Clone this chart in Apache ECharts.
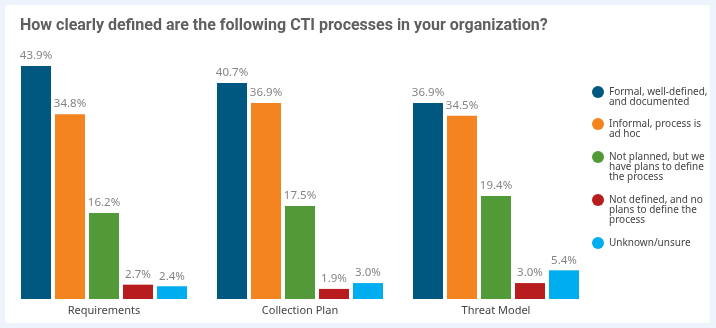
<!DOCTYPE html>
<html><head><meta charset="utf-8">
<script src="https://cdn.jsdelivr.net/npm/echarts@6/dist/echarts.min.js"></script>
<style>html,body{margin:0;padding:0;}#c{width:716px;height:328px;}</style>
</head><body><div id="c"></div>
<script>
const titleText = 'How clearly defined are the following CTI processes in your organization?';
const categories = ['Requirements', 'Collection Plan', 'Threat Model'];
const seriesNames = [
  'Formal, well-defined,\nand documented',
  'Informal, process is\nad hoc',
  'Not planned, but we\nhave plans to define\nthe process',
  'Not defined, and no\nplans to define the\nprocess',
  'Unknown/unsure'
];
const formalVals = [43.9, 40.7, 36.9];
const informalVals = [34.8, 36.9, 34.5];
const notPlannedVals = [16.2, 17.5, 19.4];
const notDefinedVals = [2.7, 1.9, 3.0];
const unknownVals = [2.4, 3.0, 5.4];
const colors = ['#00577f', '#f3841f', '#529a38', '#b81c1e', '#00adee'];

const allVals = [formalVals, informalVals, notPlannedVals, notDefinedVals, unknownVals];
const legendCenters = [92, 124, 157, 200, 243];
const LH = 10;

const legends = seriesNames.map((name, i) => {
  const n = name.split('\n').length;
  const H = Math.max(12, (2 * n - 1) * LH);
  return {
    left: 592, top: legendCenters[i] - H / 2, padding: 0,
    orient: 'vertical', itemWidth: 12, itemHeight: 12, itemGap: 3,
    icon: 'circle', selectedMode: false,
    data: [name],
    formatter: nm => '\n'.repeat(n - 1) + nm,
    textStyle: { fontFamily: 'Noto Sans', fontSize: 10, color: '#444', lineHeight: LH }
  };
});

const chart = echarts.init(document.getElementById('c'), null, { renderer: 'canvas' });
chart.setOption({
  animation: false,
  backgroundColor: '#eef4fb',
  color: colors,
  graphic: [{ type: 'rect', z: -10, shape: { x: 5, y: 5, width: 705, height: 318, r: 3 }, style: { fill: '#ffffff' } }],
  title: {
    text: titleText, left: 20, top: 18, padding: 0,
    textStyle: { fontFamily: 'Roboto', fontWeight: 'bold', fontSize: 16, color: '#5f5f5f' }
  },
  legend: legends,
  grid: { left: 6, width: 588, top: 33.5, bottom: 29, containLabel: false },
  xAxis: {
    type: 'category', data: categories,
    axisLine: { show: false }, axisTick: { show: false },
    axisLabel: { fontFamily: 'Noto Sans', fontSize: 11, color: '#444', margin: 6 }
  },
  yAxis: { type: 'value', min: 0, max: 50, show: false, splitLine: { show: false } },
  series: allVals.map((vals, i) => ({
    name: seriesNames[i], type: 'bar', data: vals,
    barGap: '13.3%', barCategoryGap: '15.3%',
    label: { show: true, position: 'top', distance: 4, formatter: p => p.value.toFixed(1) + '%',
      fontFamily: 'Noto Sans', fontSize: 11.5, color: '#848484' }
  }))
});
</script></body></html>
